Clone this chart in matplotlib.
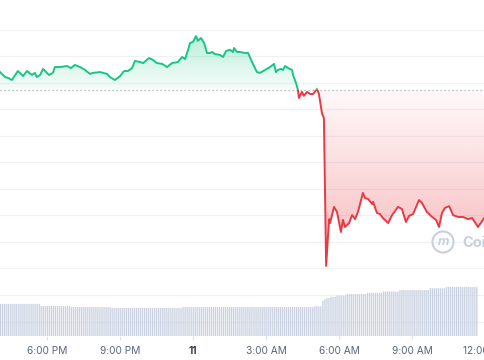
import numpy as np
import matplotlib.pyplot as plt
from matplotlib.patches import Rectangle
from matplotlib.path import Path

plt.rcParams['font.family'] = ['Inter', 'DejaVu Sans']

# price line (hours after 6:00 PM, price in chart units)
hours = [-1.94, -1.74, -1.62, -1.46, -1.22, -1.01, -0.85, -0.65, -0.53, -0.45,
         -0.32, -0.20, -0.04, 0.04, 0.20, 0.28, 0.49, 0.77, 0.93, 1.09,
         1.30, 1.50, 1.70, 1.82, 2.11, 2.39, 2.51, 2.71, 2.92, 3.08,
         3.24, 3.40, 3.52, 3.73, 3.85, 4.09, 4.25, 4.41, 4.62, 4.82,
         5.02, 5.26, 5.43, 5.55, 5.67, 5.75, 5.87, 5.99, 6.07, 6.19,
         6.32, 6.44, 6.56, 6.64, 6.76, 6.96, 7.09, 7.21, 7.37, 7.49,
         7.53, 7.65, 7.77, 7.98, 8.10, 8.26, 8.46, 8.58, 8.79, 8.99,
         9.15, 9.23, 9.31, 9.43, 9.51, 9.60, 9.72, 9.88, 9.92, 10.04,
         10.12, 10.16, 10.28, 10.36, 10.49, 10.61, 10.73, 10.89, 10.97, 11.09,
         11.17, 11.26, 11.38, 11.42, 11.58, 11.70, 11.86, 11.94, 12.02, 12.19,
         12.31, 12.43, 12.55, 12.75, 12.83, 12.96, 13.12, 13.16, 13.32, 13.44,
         13.56, 13.77, 13.93, 14.17, 14.33, 14.49, 14.62, 14.78, 15.02, 15.14,
         15.34, 15.55, 15.71, 15.83, 15.95, 16.07, 16.24, 16.40, 16.60, 16.80,
         17.00, 17.17, 17.41, 17.69]
prices = [8.41, 8.22, 8.19, 8.11, 8.45, 8.26, 8.45, 8.30, 8.38, 8.22,
          8.30, 8.53, 8.38, 8.30, 8.38, 8.60, 8.60, 8.64, 8.56, 8.68,
          8.60, 8.49, 8.34, 8.38, 8.41, 8.34, 8.22, 8.11, 8.26, 8.45,
          8.45, 8.56, 8.83, 8.79, 8.75, 8.94, 8.87, 8.75, 8.72, 8.60,
          8.75, 8.79, 8.98, 8.90, 9.25, 9.51, 9.55, 9.77, 9.59, 9.70,
          9.51, 9.13, 9.13, 9.17, 9.09, 9.06, 8.98, 9.21, 9.25, 9.17,
          9.32, 9.17, 9.17, 9.13, 9.13, 8.79, 8.41, 8.38, 8.49, 8.60,
          8.72, 8.41, 8.49, 8.53, 8.49, 8.64, 8.56, 8.49, 8.30, 8.00,
          7.73, 7.43, 7.66, 7.51, 7.66, 7.58, 7.58, 7.77, 7.58, 6.86,
          6.67, 1.08, 2.85, 2.70, 3.31, 3.12, 2.36, 2.82, 2.55, 2.70,
          3.00, 2.85, 3.12, 3.84, 3.65, 3.61, 3.42, 3.50, 3.08, 3.04,
          2.89, 2.70, 3.00, 3.31, 3.23, 2.74, 2.97, 3.04, 3.57, 3.46,
          3.12, 2.93, 2.82, 2.55, 3.08, 3.27, 3.34, 3.00, 2.93, 2.93,
          2.85, 2.89, 2.55, 2.93]
base_price = 7.73

# 24h volume, 5-minute bars: level and number of bars at that level
volume_levels = [1.19, 1.11, 1.07, 1.04, 1.07, 1.10, 1.30, 1.37, 1.41, 1.45,
                 1.50, 1.55, 1.60, 1.65, 1.70, 1.77, 1.82]
volume_counts = [20, 15, 20, 35, 65, 4, 1, 1, 2, 3,
                 5, 10, 8, 8, 15, 8, 16]

tick_hours = [0, 3, 6, 9, 12, 15, 18]
tick_labels = ['6:00 PM', '9:00 PM', '11', '3:00 AM', '6:00 AM', '9:00 AM', '12:00 PM']

green = '#16c784'
red = '#ea3943'
grid_color = '#eff2f5'
x0, x1 = -1.943, 17.692
y0, y1 = 0.546, 11.136

fig = plt.figure(figsize=(4.85, 3.6), dpi=100)
ax = fig.add_axes([0, 80 / 360, 1, 280 / 360])
vax = fig.add_axes([0, 24 / 360, 1, 56 / 360])

# gradient fill between the line and the opening price
n = 400
levels = np.linspace(y0, y1, n)
rgba = np.zeros((n, 1, 4))
above = levels >= base_price
rgba[above, 0, :3] = plt.matplotlib.colors.to_rgb(green)
rgba[~above, 0, :3] = plt.matplotlib.colors.to_rgb(red)
rgba[above, 0, 3] = 0.03 + 0.27 * np.clip((levels[above] - base_price) / (9.8 - base_price), 0, 1)
rgba[~above, 0, 3] = 0.03 + 0.25 * np.clip((base_price - levels[~above]) / (base_price - 2.6), 0, 1)
im = ax.imshow(rgba, extent=[x0, x1, y0, y1], origin='lower', aspect='auto',
               interpolation='bilinear', zorder=1)
poly = ax.fill_between(hours, prices, base_price, color='none')
im.set_clip_path(Path.make_compound_path(*poly.get_paths()), ax.transData)
poly.remove()

# line coloured green above and red below the opening price
for color, bottom in [(green, base_price), (red, base_price - 20)]:
    ln, = ax.plot(hours, prices, color=color, lw=1.4, solid_joinstyle='round', zorder=3)
    ln.set_clip_path(Rectangle((x0, bottom), x1 - x0, 20, transform=ax.transData))

ax.axhline(base_price, color='#a6adbb', lw=0.9, ls=(0, (1, 2.2)), zorder=2)

ax.set_xlim(x0, x1)
ax.set_ylim(y0, y1)
ax.set_yticks(range(1, 11))
ax.grid(axis='y', color=grid_color, lw=0.9, zorder=0)
ax.set_axisbelow(True)
ax.tick_params(left=False, labelleft=False, bottom=False, labelbottom=False)
for s in ax.spines.values():
    s.set_visible(False)

# volume bars
volume = np.repeat(volume_levels, volume_counts)
bar_t = x0 + np.arange(len(volume)) / 12
bars = vax.bar(bar_t, volume, width=0.65 / 12, color='#c9d1e0', align='edge', zorder=2)
for b in bars:
    b.set_snap(False)
vax.set_xlim(x0, x1)
vax.set_ylim(0, 56 / 27)
vax.set_yticks([0.52, 1.52])
vax.grid(axis='y', color=grid_color, lw=0.9, zorder=0)
vax.set_axisbelow(True)
vax.set_xticks(tick_hours)
vax.set_xticklabels(tick_labels)
vax.tick_params(left=False, labelleft=False, length=3, color='#dfe3ea',
                labelcolor='#58667e', labelsize=7.3, pad=4)
for s in vax.spines.values():
    s.set_visible(False)
vax.get_xticklabels()[2].set_fontweight('bold')
vax.get_xticklabels()[2].set_color('#3a4150')

# watermark
fig.text(443 / 485, (360 - 242) / 360, 'm', color='#c8d0dd', fontsize=9,
         fontweight='bold', ha='center', va='center', style='italic')
ax.scatter([443 / 485], [(360 - 242) / 360], transform=fig.transFigure, s=230,
           facecolors='none', edgecolors='#c8d0dd', linewidths=1.5, clip_on=False, zorder=4)
fig.text(462 / 485, (360 - 247) / 360, 'CoinGecko', color='#c8d0dd', fontsize=10.5,
         fontweight='bold', ha='left', va='baseline')

fig.savefig('out.png', dpi=100)
